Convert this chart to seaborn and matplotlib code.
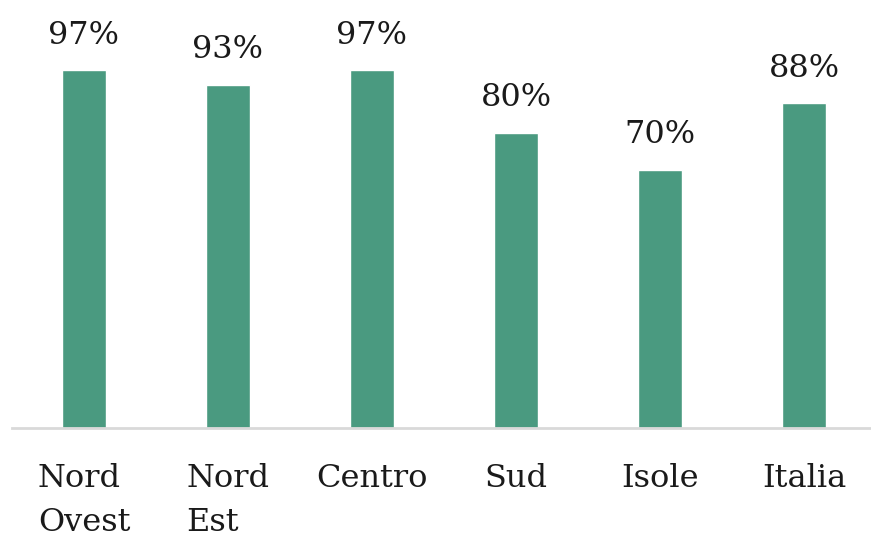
import pandas as pd
import seaborn as sns
import matplotlib.pyplot as plt

# data
regioni = ["Nord\nOvest", "Nord\nEst", "Centro", "Sud", "Isole", "Italia"]
valori = [97, 93, 97, 80, 70, 88]

df = pd.DataFrame({"regione": regioni, "valore": valori})

sns.set_style("white")
plt.rcParams["font.family"] = ["DejaVu Serif", "Liberation Serif"]

fig = plt.figure(figsize=(8.71, 5.39), dpi=100)
ax = fig.add_axes([12 / 871, (539 - 428) / 539, 864 / 871, 428 / 539])

sns.barplot(data=df, x="regione", y="valore", color="#4A9A80", saturation=1,
            width=0.31, ax=ax)

for i, v in enumerate(valori):
    ax.annotate(f"{v}%", (i, v), xytext=(0, 14), textcoords="offset points",
                ha="center", va="bottom", fontsize=23, color="#1a1a1a")

ax.set_ylim(0, 116)
ax.set_xlim(-0.5, len(regioni) - 0.5)
ax.set_xlabel("")
ax.set_ylabel("")
ax.set_yticks([])
for s in ["top", "right", "left"]:
    ax.spines[s].set_visible(False)
ax.spines["bottom"].set_color("#D9D9D9")
ax.spines["bottom"].set_linewidth(2)
ax.tick_params(axis="x", length=0, pad=25, labelsize=23, labelcolor="#1a1a1a")
for t in ax.get_xticklabels():
    t.set_linespacing(1.55)
    t.set_verticalalignment("top")
    t.set_multialignment("left")

fig.savefig("out.png", dpi=100)
